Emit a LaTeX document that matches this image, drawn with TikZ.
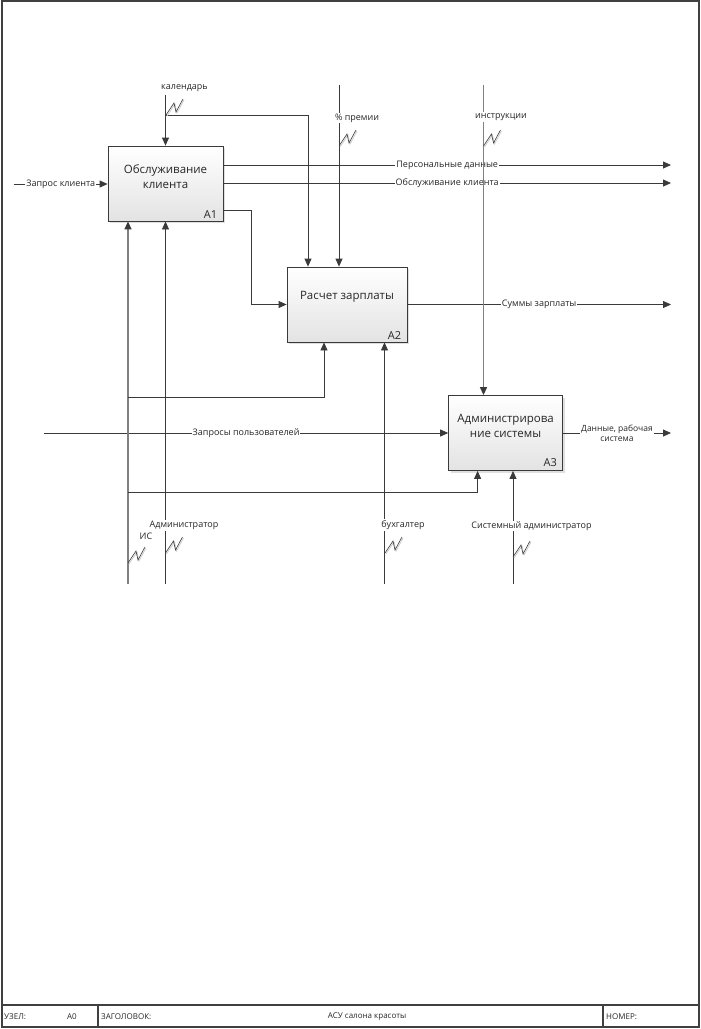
\documentclass[tikz,border=0pt]{standalone}
\usepackage{fontspec}
\setmainfont{Open Sans}
\usetikzlibrary{arrows.meta,shadows}

\definecolor{linecol}{HTML}{3A3A3A}
\definecolor{framecol}{HTML}{404040}

\tikzset{
  func/.style={draw=linecol, line width=0.8pt, top color=white, bottom color=gray!22,
    drop shadow={shadow xshift=2pt, shadow yshift=-2pt, opacity=0.25},
    minimum width=#1, minimum height=75pt, inner sep=0pt},
  flow/.style={draw=linecol, line width=0.8pt, -{Triangle[length=8pt,width=7pt,color=linecol]}},
  grayline/.style={draw=black!50, line width=1.4pt},
  lbl/.style={font=\fontsize{9}{10.5}\selectfont, text=black!85, inner sep=1pt, fill=white},
  boxtxt/.style={font=\fontsize{11.5}{15}\selectfont, text=black!85, align=center},
  num/.style={font=\fontsize{11}{13}\selectfont, text=black!85, anchor=south east, inner sep=1pt},
  foot/.style={font=\fontsize{8}{10}\selectfont, text=black!85, inner sep=1pt},
  squig/.pic={
    \draw[gray!40, line width=0.8pt, shift={(1,1)}] (0,0) -- (8,-12) -- (10,-3) -- (17,-16);
    \draw[linecol, line width=0.6pt] (0,0) -- (8,-12) -- (10,-3) -- (17,-16);
  }
}

\begin{document}
\begin{tikzpicture}[x=1pt,y=-1pt]
  \useasboundingbox (0,0) rectangle (701,1029);

  % frame and title block
  \draw[framecol, line width=1.2pt] (2,1) rectangle (699,1027);
  \draw[framecol, line width=1.2pt] (2,1005) -- (699,1005);
  \draw[framecol, line width=1.2pt] (98,1005) -- (98,1027);
  \draw[framecol, line width=1.2pt] (603,1005) -- (603,1027);
  \node[foot, anchor=west] (uzel) at (3,1017) {УЗЕЛ:};
  \node[foot] (uzelnum) at (72,1017) {A0};
  \node[foot, anchor=west] (zag) at (100,1017) {ЗАГОЛОВОК:};
  \node[foot] (zagtxt) at (367,1017) {АСУ салона красоты};
  \node[foot, anchor=west] (nomer) at (605,1017) {НОМЕР:};

  % functions
  \node[func=115pt] (obsl) at (165.5,183.5) {};
  \node[boxtxt] (obsltxt) at ([yshift=7pt]obsl.center) {Обслуживание\\клиента};
  \node[num] (obslnum) at ([xshift=-5pt,yshift=2pt]obsl.south east) {A1};

  \node[func=120pt] (raschet) at (347,304.5) {};
  \node[boxtxt] (raschettxt) at ([yshift=7.5pt]raschet.center) {Расчет зарплаты};
  \node[num] (raschetnum) at ([xshift=-5pt,yshift=2pt]raschet.south east) {A2};

  \node[func=114pt] (admin) at (505.6,433) {};
  \node[boxtxt] (admintxt) at ([yshift=7pt]admin.center) {Администрирова\\ние системы};
  \node[num] (adminnum) at ([xshift=-5pt,yshift=3pt]admin.south east) {A3};

  % free ends
  \coordinate (zapin) at (14,184);
  \coordinate (persout) at (671,165);
  \coordinate (obslout) at (671,183);
  \coordinate (summout) at (671,304.5);
  \coordinate (zappin) at (44,433);
  \coordinate (datout) at (671,433);
  \coordinate (kal) at (165.5,95);
  \coordinate (kalbr) at (165.5,115);
  \coordinate (prem) at (339,85);
  \coordinate (instr) at (483.5,85);
  \coordinate (is) at (128,584);
  \coordinate (isbr1) at (128,397);
  \coordinate (isbr2) at (128,492);
  \coordinate (adm) at (165.5,584);
  \coordinate (buh) at (384.5,584);
  \coordinate (sysadm) at (513,584);

  % inputs and outputs
  \draw[flow] (zapin) -- node[lbl] (zapinlbl) {Запрос клиента} (zapin -| obsl.west);
  \draw[flow] (obsl.east |- persout) -- node[lbl] (perslbl) {Персональные данные} (persout);
  \draw[flow] (obsl.east |- obslout) -- node[lbl] (obsllbl) {Обслуживание клиента} (obslout);
  \draw[flow] ([yshift=11pt]obsl.south east) -- ++(28,0) |- (raschet.west);
  \draw[flow] (raschet.east) -- node[lbl] (summlbl) {Суммы зарплаты} (summout);
  \draw[flow] (zappin) -- node[lbl] (zapplbl) {Запросы пользователей} (admin.west);
  \draw[flow] (admin.east) -- node[lbl, align=center, font=\fontsize{8.5}{10}\selectfont] (datlbl) {Данные, рабочая\\система} (datout);

  % controls
  \draw[flow] (kal) -- (obsl.north);
  \draw[flow] (kalbr) -| ([xshift=-39pt]raschet.north);
  \draw[flow] (prem) -- (prem |- raschet.north);
  \draw[flow, grayline] (instr) -- (instr |- admin.north);
  \node[lbl, fill=none] (kallbl) at (184.5,88) {календарь};
  \node[lbl] (premlbl) at (357,118) {\% премии};
  \node[lbl] (instrlbl) at (501,117) {инструкции};

  % mechanisms
  \draw[flow, grayline] (is) -- (is |- obsl.south);
  \draw[flow] (isbr1) -| ([xshift=-23pt]raschet.south);
  \draw[flow] (isbr2) -| ([xshift=-28pt]admin.south);
  \draw[flow] (adm) -- (obsl.south);
  \draw[flow] (buh) -- (buh |- raschet.south);
  \draw[flow] (sysadm) -- (sysadm |- admin.south);
  \node[lbl, fill=none] (islbl) at (146,536) {ИС};
  \node[lbl] (admlbl) at (184,525.5) {Администратор};
  \node[lbl] (buhlbl) at (403,525) {бухгалтер};
  \node[lbl] (sysadmlbl) at (531.5,526) {Системный администратор};

  % tunnel marks
  \pic at (166,115) {squig};
  \pic at (339,146) {squig};
  \pic at (483.5,146) {squig};
  \pic at (128,563) {squig};
  \pic at (165.5,553) {squig};
  \pic at (385,553) {squig};
  \pic at (513,557) {squig};
\end{tikzpicture}
\end{document}
